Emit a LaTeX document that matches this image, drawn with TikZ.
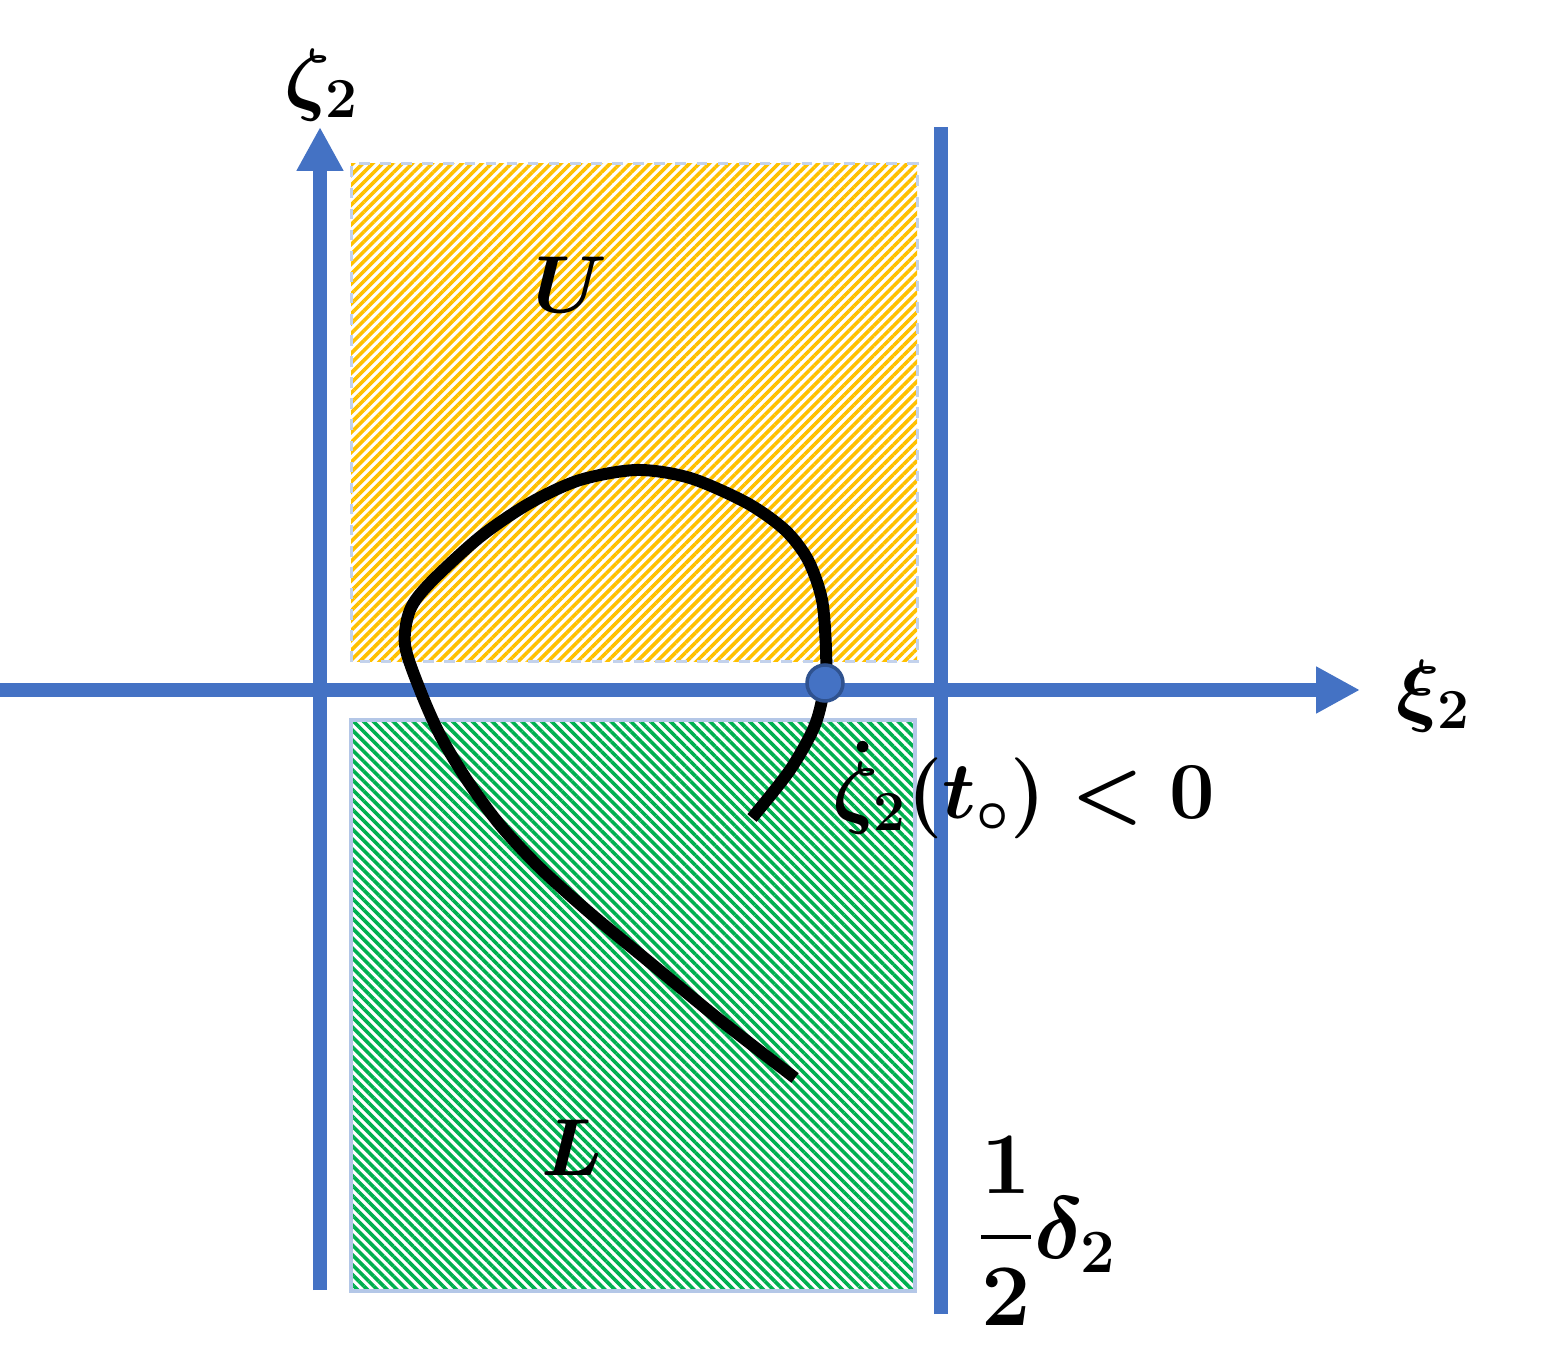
\RequirePackage{fix-cm}
\documentclass[tikz,border=0pt]{standalone}
\usepackage{amsmath}
\usepackage{bm}
\usetikzlibrary{arrows.meta,patterns.meta}
\definecolor{axisblue}{HTML}{4472C4}
\definecolor{dotborder}{HTML}{2F528F}
\definecolor{frameblue}{HTML}{B4C7E7}
\definecolor{hatchorange}{HTML}{FFC000}
\definecolor{hatchgreen}{HTML}{00B050}
\begin{document}
\begin{tikzpicture}[axis/.style={axisblue,line width=0.14cm},
  axis arrow/.style={axis,-{Triangle[length=0.44cm,width=0.44cm]}},
  upper box/.style={pattern={Lines[angle=45,distance=0.07cm,line width=0.036cm]},pattern color=hatchorange,draw=frameblue!80,dashed,line width=0.03cm},
  lower box/.style={pattern={Lines[angle=-45,distance=0.07cm,line width=0.036cm]},pattern color=hatchgreen,draw=frameblue,line width=0.045cm},
  curve/.style={black,line width=0.12cm},
  dot mark/.style={circle,fill=axisblue,draw=dotborder,line width=0.035cm,minimum size=0.36cm,inner sep=0pt},
  lbl/.style={font=\fontsize{23}{28}\selectfont\boldmath,inner sep=0pt}]
\useasboundingbox (0,0) rectangle (15.42,13.48);
\fill[white] (0,0) rectangle (15.42,13.48);
% shaded regions
\filldraw[upper box] (3.51,6.86) rectangle (9.17,11.84);
\filldraw[lower box] (3.51,0.57) rectangle (9.15,6.28);
% axes
\coordinate (xstart) at (0,6.58);
\coordinate (xend) at (13.60,6.58);
\coordinate (ystart) at (3.20,0.58);
\coordinate (yend) at (3.20,12.21);
\coordinate (bstart) at (9.41,0.34);
\coordinate (bend) at (9.41,12.21);
\draw[axis arrow] (xstart) -- (xend);
\draw[axis arrow] (ystart) -- (yend);
\draw[axis] (bstart) -- (bend);
% trajectory
\draw[curve] plot[smooth] coordinates {(7.95,2.70) (7.20,3.28) (6.53,3.83) (5.90,4.35) (5.40,4.80) (5.00,5.23) (4.67,5.68) (4.40,6.13) (4.20,6.58) (4.05,7.03) (4.10,7.38) (4.30,7.65) (4.80,8.11) (5.30,8.45) (5.80,8.68) (6.37,8.78) (6.90,8.70) (7.47,8.45) (7.85,8.18) (8.08,7.88) (8.22,7.48) (8.26,6.98) (8.25,6.65) (8.15,6.23) (7.90,5.78) (7.52,5.30)};
\node[dot mark] (t0) at (8.25,6.65) {};
% labels
\begin{scope}[every node/.style={lbl}]
\node (zeta) at (3.22,12.63) {$\zeta_2$};
\node (xi) at (14.34,6.52) {$\xi_2$};
\node (U) at (5.70,10.63) {$U$};
\node (L) at (5.72,2.00) {$L$};
\node (cond) at (10.24,5.58) {$\dot{\zeta}_2(t_\circ)<0$};
\node[font=\fontsize{25}{30}\selectfont\boldmath] (half) at (10.47,1.17) {$\dfrac{1}{2}\delta_2$};
\end{scope}
\end{tikzpicture}
\end{document}
